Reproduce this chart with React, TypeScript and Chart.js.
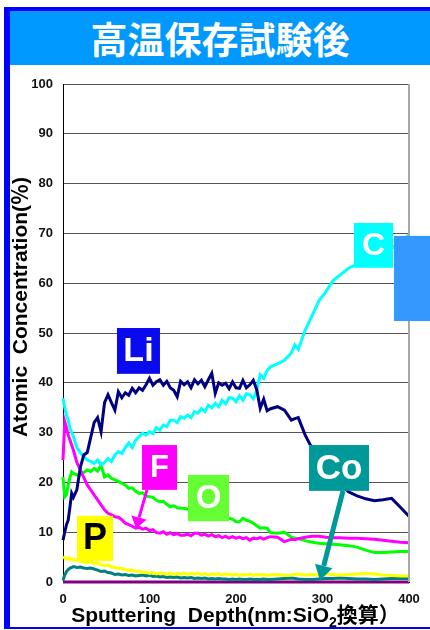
import React, { useEffect, useRef } from "react";
import { Chart, registerables } from "chart.js";

Chart.register(...registerables);

// Sputtering depth (nm, SiO2 equivalent)
const depth = [
  0, 2, 4, 6, 8, 10, 12, 16, 20, 24,
  28, 32, 36, 40, 44, 48, 52, 56, 60, 64,
  68, 72, 76, 80, 84, 88, 92, 96, 100, 104,
  108, 112, 116, 120, 124, 128, 132, 136, 140, 144,
  148, 152, 156, 160, 164, 168, 172, 176, 180, 184,
  188, 192, 196, 200, 204, 208, 212, 216, 220, 224,
  228, 232, 236, 240, 248, 256, 264, 268, 272, 280,
  288, 296, 304, 312, 320, 330, 340, 350, 360, 370,
  380, 390, 400,
];

const liValues = [
  8.4, 10.0, 11.5, 12.4, 15.0, 17.8, 17.0, 18.5, 23.0, 25.5,
  26.0, 29.0, 32.0, 33.0, 30.2, 36.0, 37.6, 36.0, 34.5, 38.2,
  37.0, 38.0, 37.5, 38.9, 38.0, 39.0, 38.5, 39.6, 40.9, 39.5,
  40.2, 40.6, 39.5, 40.3, 39.0, 38.5, 37.2, 40.3, 39.6, 40.2,
  39.0, 40.6, 39.8, 40.5, 39.2, 40.6, 41.9, 37.9, 40.0, 39.5,
  39.9, 38.8, 40.2, 39.0, 38.9, 40.5, 39.0, 39.6, 40.5, 38.6,
  34.9, 36.7, 34.4, 34.8, 35.2, 34.5, 32.5, 32.8, 33.0, 29.5,
  26.8, 24.0, 22.5, 21.0, 19.8, 18.1, 17.3, 16.7, 16.3, 16.5,
  16.8, 15.0, 13.2,
];

const cValues = [
  36.9, 35.0, 33.5, 32.5, 31.0, 30.0, 29.2, 27.0, 26.0, 25.2,
  24.5, 24.2, 23.8, 24.5, 23.5, 24.0, 24.8, 24.2, 25.5, 26.2,
  25.8, 27.0, 27.9, 27.0, 28.5, 29.2, 29.9, 29.5, 30.2, 29.8,
  31.0, 30.5, 31.5, 31.2, 32.5, 32.5, 32.0, 33.2, 32.9, 33.5,
  33.0, 34.2, 33.9, 34.8, 34.2, 35.5, 35.0, 35.9, 35.2, 36.5,
  35.8, 37.0, 36.9, 36.2, 37.4, 36.5, 37.8, 37.6, 36.8, 38.5,
  41.6, 40.9, 42.5, 43.2, 43.8, 44.5, 46.0, 47.6, 46.7, 50.6,
  53.5, 56.5, 58.3, 60.5, 61.6, 63.0, 63.8, 65.0, 66.0, 66.5,
  67.0, 68.5, 69.7,
];

const fValues = [
  24.5, 32.2, 31.0, 29.5, 28.5, 27.5, 26.5, 24.0, 22.5, 21.0,
  19.5, 18.5, 17.5, 16.5, 15.5, 14.5, 13.8, 13.5, 13.1, 13.0,
  12.5, 11.8, 11.5, 11.2, 10.8, 11.0, 10.6, 10.8, 10.3, 10.5,
  9.9, 9.8, 10.1, 9.6, 9.9, 9.5, 9.7, 9.4, 9.4, 9.6,
  9.3, 9.8, 9.8, 9.4, 9.6, 9.2, 9.5, 9.1, 9.3, 8.9,
  9.2, 8.8, 9.1, 8.8, 9.0, 8.7, 8.9, 8.4, 8.8, 8.7,
  8.9, 8.6, 8.9, 9.1, 9.0, 8.1, 8.6, 8.5, 8.7, 9.0,
  9.2, 9.2, 9.0, 8.9, 8.9, 8.8, 8.8, 8.7, 8.6, 8.4,
  8.2, 8.0, 7.9,
];

const oValues = [
  21.1, 17.1, 17.5, 19.5, 21.0, 22.1, 21.8, 21.5, 21.5, 22.0,
  22.5, 22.2, 22.8, 22.3, 23.5, 21.1, 21.5, 20.8, 20.5, 20.2,
  19.8, 19.5, 18.8, 18.9, 18.2, 17.8, 17.9, 17.3, 17.1, 17.0,
  16.4, 16.1, 16.2, 15.6, 15.1, 15.3, 14.9, 14.8, 14.8, 14.6,
  14.5, 14.3, 14.2, 14.0, 13.8, 13.7, 13.5, 13.4, 13.2, 13.0,
  12.9, 12.8, 12.6, 12.1, 12.1, 12.8, 12.4, 12.2, 11.8, 11.3,
  10.8, 10.9, 10.8, 9.9, 9.8, 10.0, 9.0, 8.8, 8.7, 8.3,
  8.0, 7.8, 7.7, 7.6, 7.5, 7.3, 7.0, 6.4, 5.9, 5.9,
  6.0, 6.1, 6.1,
];

const pValues = [
  5.1, 4.8, 4.6, 4.9, 4.5, 4.7, 4.4, 4.5, 4.2, 4.0,
  3.9, 4.1, 3.7, 3.8, 3.5, 3.3, 3.4, 3.0, 2.9, 2.7,
  2.8, 2.5, 2.3, 2.4, 2.1, 2.2, 1.9, 2.0, 1.7, 1.9,
  1.6, 1.8, 1.7, 1.6, 1.8, 1.5, 1.7, 1.6, 1.8, 1.5,
  1.7, 1.6, 1.8, 1.5, 1.7, 1.4, 1.6, 1.5, 1.7, 1.4,
  1.6, 1.5, 1.4, 1.6, 1.3, 1.5, 1.4, 1.6, 1.3, 1.5,
  1.4, 1.5, 1.3, 1.4, 1.5, 1.3, 1.4, 1.5, 1.6, 1.4,
  1.5, 1.4, 1.6, 1.5, 1.4, 1.5, 1.6, 1.7, 1.6, 1.4,
  1.3, 1.2, 1.2,
];

const coValues = [
  0.3, 1.4, 2.1, 2.5, 2.8, 2.9, 3.1, 2.9, 3.0, 2.8,
  2.7, 2.8, 2.6, 2.4, 2.1, 2.2, 1.9, 1.8, 1.5, 1.6,
  1.4, 1.5, 1.3, 1.4, 1.2, 1.3, 1.4, 1.2, 1.4, 1.1,
  1.2, 1.0, 1.1, 0.9, 1.0, 0.9, 1.0, 0.8, 0.9, 0.8,
  0.9, 0.7, 0.8, 0.7, 0.8, 0.6, 0.7, 0.6, 0.7, 0.6,
  0.6, 0.5, 0.6, 0.5, 0.6, 0.5, 0.5, 0.6, 0.5, 0.5,
  0.5, 0.6, 0.5, 0.5, 0.6, 0.7, 0.8, 0.7, 0.6, 0.5,
  0.5, 0.6, 0.7, 0.7, 0.8, 0.7, 0.6, 0.6, 0.5, 0.6,
  0.7, 0.7, 0.7,
];

const baseDepth = [0, 400];
const baseValues = [0, 0];

const xTicks = [0, 100, 200, 300, 400];
const yTicks = [0, 10, 20, 30, 40, 50, 60, 70, 80, 90, 100];

// Element labels placed in data units (depth, %)
const labelBoxes = [
  { text: "Li", x0: 62.4, x1: 112.1, y0: 51.0, y1: 41.8, bg: "#0A0AEE", fg: "#FFFFFF", size: 34 },
  { text: "C", x0: 336.4, x1: 381.5, y0: 72.1, y1: 63.1, bg: "#00FFFF", fg: "#FFFFFF", size: 32 },
  { text: "F", x0: 91.3, x1: 131.8, y0: 27.5, y1: 18.5, bg: "#FF00FF", fg: "#FFFFFF", size: 31 },
  { text: "O", x0: 144.5, x1: 191.9, y0: 21.5, y1: 12.2, bg: "#66FF33", fg: "#FFFFFF", size: 33 },
  { text: "P", x0: 16.2, x1: 57.8, y0: 13.3, y1: 4.2, bg: "#FFFF00", fg: "#000000", size: 36 },
  { text: "Co", x0: 284.4, x1: 353.8, y0: 27.5, y1: 18.3, bg: "#009999", fg: "#FFFFFF", size: 35 },
  { text: "", x0: 382.7, x1: 430, y0: 69.5, y1: 52.4, bg: "#3399FF", fg: "#FFFFFF", size: 10 },
];

const arrows = [
  { fx: 97.1, fy: 18.5, tx: 84.4, ty: 10.8, color: "#FF00FF", width: 3, head: 11, half: 8 },
  { fx: 323.7, fy: 18.3, tx: 297.1, ty: 0.3, color: "#009999", width: 5, head: 15, half: 9 },
];

const FONT = '"Liberation Sans", Arial, "Noto Sans CJK JP", sans-serif';

const overlayPlugin = {
  id: "overlay",
  afterDatasetsDraw(chart: any) {
    const { ctx, chartArea } = chart;
    const xs = chart.scales.x;
    const ys = chart.scales.y;
    ctx.save();
    // right frame line
    ctx.strokeStyle = "#A8A8A8";
    ctx.lineWidth = 2;
    ctx.beginPath();
    ctx.moveTo(chartArea.right, chartArea.top);
    ctx.lineTo(chartArea.right, chartArea.bottom);
    ctx.stroke();

    for (const b of labelBoxes) {
      const x0 = xs.getPixelForValue(b.x0);
      const x1 = xs.getPixelForValue(b.x1);
      const y0 = ys.getPixelForValue(b.y0);
      const y1 = ys.getPixelForValue(b.y1);
      ctx.fillStyle = b.bg;
      ctx.fillRect(x0, y0, x1 - x0, y1 - y0);
      if (b.text) {
        ctx.fillStyle = b.fg;
        ctx.font = `bold ${b.size}px ${FONT}`;
        ctx.textAlign = "center";
        ctx.textBaseline = "middle";
        ctx.fillText(b.text, (x0 + x1) / 2, (y0 + y1) / 2 + 1);
      }
    }

    for (const a of arrows) {
      const fx = xs.getPixelForValue(a.fx);
      const fy = ys.getPixelForValue(a.fy);
      const tx = xs.getPixelForValue(a.tx);
      const ty = ys.getPixelForValue(a.ty);
      const dx = tx - fx;
      const dy = ty - fy;
      const len = Math.hypot(dx, dy);
      const ux = dx / len;
      const uy = dy / len;
      const bx = tx - ux * a.head;
      const by = ty - uy * a.head;
      ctx.strokeStyle = a.color;
      ctx.lineWidth = a.width;
      ctx.beginPath();
      ctx.moveTo(fx, fy);
      ctx.lineTo(bx, by);
      ctx.stroke();
      ctx.fillStyle = a.color;
      ctx.beginPath();
      ctx.moveTo(tx, ty);
      ctx.lineTo(bx - uy * a.half, by + ux * a.half);
      ctx.lineTo(bx + uy * a.half, by - ux * a.half);
      ctx.closePath();
      ctx.fill();
    }
    ctx.restore();
  },
};

function series(xv: number[], yv: number[]) {
  return xv.map((x, i) => ({ x, y: yv[i] }));
}

export default function App() {
  const canvasRef = useRef<HTMLCanvasElement | null>(null);

  useEffect(() => {
    if (!canvasRef.current) return;
    const mk = (label: string, xv: number[], yv: number[], color: string) => ({
      label,
      data: series(xv, yv),
      borderColor: color,
      backgroundColor: color,
      borderWidth: 3,
      pointRadius: 0,
      tension: 0,
      fill: false,
    });
    const chart = new Chart(canvasRef.current, {
      type: "line",
      data: {
        datasets: [
          mk("Li", depth, liValues, "#000080"),
          mk("C", depth, cValues, "#00FFFF"),
          mk("F", depth, fValues, "#FF00FF"),
          mk("O", depth, oValues, "#00FF00"),
          mk("P", depth, pValues, "#FFFF00"),
          mk("Co", depth, coValues, "#008080"),
          mk("base", baseDepth, baseValues, "#800080"),
        ],
      },
      options: {
        responsive: false,
        animation: false,
        clip: false,
        layout: { padding: { top: 19, right: 21, left: 0, bottom: 0 } },
        plugins: {
          legend: { display: false },
          tooltip: { enabled: false },
        },
        scales: {
          x: {
            type: "linear",
            min: 0,
            max: 400,
            afterFit: (s: any) => {
              s.height = 45;
            },
            afterBuildTicks: (s: any) => {
              s.ticks = xTicks.map((v) => ({ value: v }));
            },
            grid: { display: false, drawTicks: false },
            border: { display: true, color: "#000000", width: 1 },
            ticks: {
              padding: 10,
              color: "#111111",
              font: { family: FONT, size: 13, weight: "bold" },
            },
          },
          y: {
            type: "linear",
            min: 0,
            max: 100,
            afterFit: (s: any) => {
              s.width = 53;
            },
            afterBuildTicks: (s: any) => {
              s.ticks = yTicks.map((v) => ({ value: v }));
            },
            grid: { color: "#555555", lineWidth: 1, drawTicks: false },
            border: { display: true, color: "#000000", width: 1 },
            ticks: {
              padding: 10,
              color: "#111111",
              font: { family: FONT, size: 13, weight: "bold" },
            },
          },
        },
      } as any,
      plugins: [overlayPlugin],
    });
    return () => chart.destroy();
  }, []);

  return (
    <div>
      <div
        style={{
          position: "absolute",
          left: 4,
          top: 7,
          width: 426,
          height: 622,
          boxSizing: "border-box",
          borderTop: "4px solid #0000FF",
          borderLeft: "6px solid #0000FF",
          borderBottom: "2px solid #0000FF",
          background: "#FFFFFF",
        }}
      />
      <div
        style={{
          position: "absolute",
          left: 10,
          top: 11,
          width: 420,
          height: 54,
          background: "#0099FF",
          color: "#FFFFFF",
          fontFamily: '"Noto Sans CJK JP", sans-serif',
          fontWeight: "bold",
          fontSize: 37,
          lineHeight: "54px",
          textAlign: "center",
        }}
      >
        高温保存試験後
      </div>
      <canvas
        ref={canvasRef}
        width={420}
        height={562}
        style={{ position: "absolute", left: 10, top: 65, width: 420, height: 562 }}
      />
      <div
        style={{
          position: "absolute",
          left: 6,
          top: 604,
          width: 459,
          height: 22,
          lineHeight: "22px",
          textAlign: "center",
          whiteSpace: "pre",
          color: "#000000",
          fontFamily: FONT,
          fontWeight: "bold",
          fontSize: 21,
        }}
      >
        Sputtering  Depth(nm:SiO
        <span style={{ fontSize: 14, verticalAlign: -5, lineHeight: "10px" }}>2</span>
        換算）
      </div>
      <div
        style={{
          position: "absolute",
          left: 20 - 150,
          top: 307 - 11,
          width: 300,
          height: 22,
          lineHeight: "22px",
          textAlign: "center",
          whiteSpace: "pre",
          color: "#000000",
          fontFamily: FONT,
          fontWeight: "bold",
          fontSize: 21,
          transform: "rotate(-90deg)",
        }}
      >
        Atomic  Concentration(％)
      </div>
    </div>
  );
}
